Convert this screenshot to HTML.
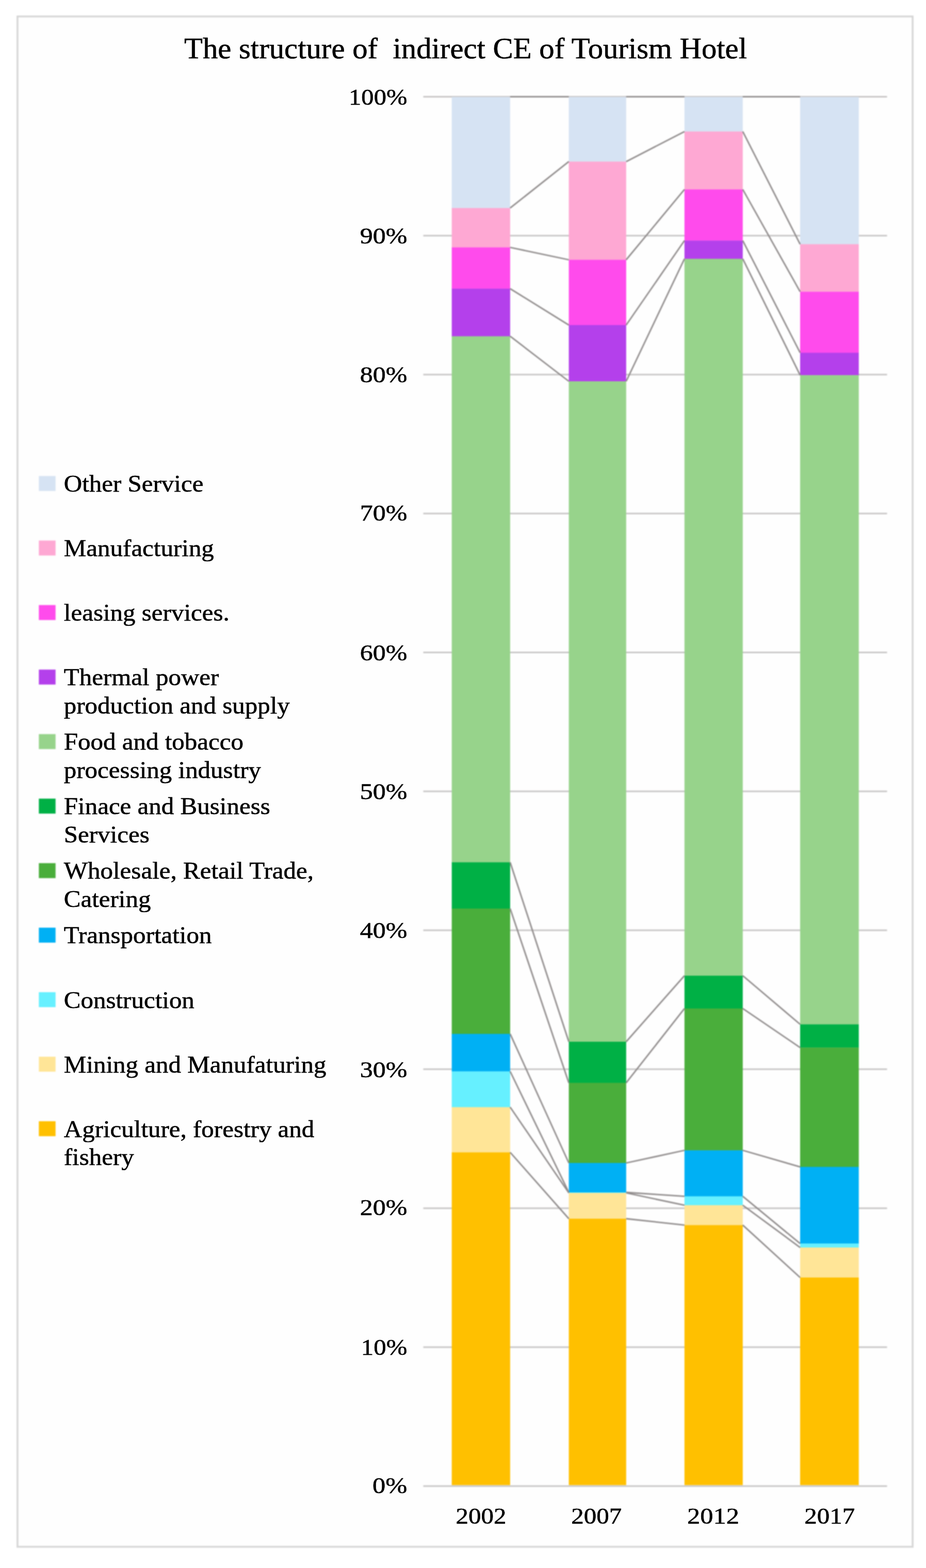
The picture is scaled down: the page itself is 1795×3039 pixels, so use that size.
<!DOCTYPE html>
<html lang="en">
<head>
<meta charset="utf-8">
<title>The structure of indirect CE of Tourism Hotel</title>
<style>
html,body{margin:0;padding:0;background:#fff;}
body{width:1795px;height:3039px;overflow:hidden;}
svg{display:block;}
.shapes{filter:blur(0.8px);}
.labels{filter:blur(0.45px);}
text{font-family:"Liberation Serif", "Times New Roman", serif;fill:#000;white-space:pre;stroke:#000;stroke-width:0.6px;stroke-linejoin:round;}
.t{font-size:58.74px;}
.a{font-size:48.6px;text-anchor:end;}
.c{font-size:49px;text-anchor:middle;}
.l{font-size:49px;}
</style>
</head>
<body>
<svg width="1795" height="3039" viewBox="0 0 1795 3039" role="img" aria-label="The structure of indirect CE of Tourism Hotel">
<rect x="0" y="0" width="1795" height="3039" fill="#ffffff"/>
<g class="shapes">
<!-- chart frame -->
<rect x="33.9" y="31.9" width="1735.2" height="2966" fill="#fefefe" stroke="#D6D6D6" stroke-width="3.5"/>
<!-- horizontal gridlines 10%..100% -->
<g stroke="#C8C6C6" stroke-width="3" fill="none">
<line x1="820.5" y1="2610.92" x2="1719.5" y2="2610.92"/>
<line x1="820.5" y1="2341.64" x2="1719.5" y2="2341.64"/>
<line x1="820.5" y1="2072.36" x2="1719.5" y2="2072.36"/>
<line x1="820.5" y1="1803.08" x2="1719.5" y2="1803.08"/>
<line x1="820.5" y1="1533.80" x2="1719.5" y2="1533.80"/>
<line x1="820.5" y1="1264.52" x2="1719.5" y2="1264.52"/>
<line x1="820.5" y1="995.24" x2="1719.5" y2="995.24"/>
<line x1="820.5" y1="725.96" x2="1719.5" y2="725.96"/>
<line x1="820.5" y1="456.68" x2="1719.5" y2="456.68"/>
<line x1="820.5" y1="187.40" x2="1719.5" y2="187.40"/>
</g>
<!-- stacked column 2002 -->
<g>
<rect x="875.7" y="187.90" width="113.20" height="215.70" fill="#D6E3F3"/>
<rect x="875.7" y="403.20" width="113.20" height="76.70" fill="#FEA8D3"/>
<rect x="875.7" y="479.50" width="113.20" height="80.40" fill="#FF4BEC"/>
<rect x="875.7" y="559.50" width="113.20" height="92.60" fill="#B440EB"/>
<rect x="875.7" y="651.70" width="113.20" height="1019.90" fill="#97D38B"/>
<rect x="875.7" y="1671.20" width="113.20" height="90.10" fill="#00B045"/>
<rect x="875.7" y="1760.90" width="113.20" height="243.30" fill="#4AAE3B"/>
<rect x="875.7" y="2003.80" width="113.20" height="73.10" fill="#00B0F4"/>
<rect x="875.7" y="2076.50" width="113.20" height="69.70" fill="#66F0FF"/>
<rect x="875.7" y="2145.80" width="113.20" height="88.00" fill="#FFE597"/>
<rect x="875.7" y="2233.40" width="113.20" height="645.00" fill="#FFC000"/>
</g>
<!-- stacked column 2007 -->
<g>
<rect x="1102.6" y="187.90" width="111.20" height="125.70" fill="#D6E3F3"/>
<rect x="1102.6" y="313.20" width="111.20" height="190.70" fill="#FEA8D3"/>
<rect x="1102.6" y="503.50" width="111.20" height="126.90" fill="#FF4BEC"/>
<rect x="1102.6" y="630.00" width="111.20" height="109.40" fill="#B440EB"/>
<rect x="1102.6" y="739.00" width="111.20" height="1280.40" fill="#97D38B"/>
<rect x="1102.6" y="2019.00" width="111.20" height="80.10" fill="#00B045"/>
<rect x="1102.6" y="2098.70" width="111.20" height="155.70" fill="#4AAE3B"/>
<rect x="1102.6" y="2254.00" width="111.20" height="57.40" fill="#00B0F4"/>
<rect x="1102.6" y="2311.00" width="111.20" height="1.40" fill="#66F0FF"/>
<rect x="1102.6" y="2312.00" width="111.20" height="50.40" fill="#FFE597"/>
<rect x="1102.6" y="2362.00" width="111.20" height="516.40" fill="#FFC000"/>
</g>
<!-- stacked column 2012 -->
<g>
<rect x="1326.8" y="187.90" width="113.00" height="67.40" fill="#D6E3F3"/>
<rect x="1326.8" y="254.90" width="113.00" height="112.60" fill="#FEA8D3"/>
<rect x="1326.8" y="367.10" width="113.00" height="99.60" fill="#FF4BEC"/>
<rect x="1326.8" y="466.30" width="113.00" height="35.70" fill="#B440EB"/>
<rect x="1326.8" y="501.60" width="113.00" height="1389.80" fill="#97D38B"/>
<rect x="1326.8" y="1891.00" width="113.00" height="64.00" fill="#00B045"/>
<rect x="1326.8" y="1954.60" width="113.00" height="275.30" fill="#4AAE3B"/>
<rect x="1326.8" y="2229.50" width="113.00" height="89.50" fill="#00B0F4"/>
<rect x="1326.8" y="2318.60" width="113.00" height="17.60" fill="#66F0FF"/>
<rect x="1326.8" y="2335.80" width="113.00" height="39.00" fill="#FFE597"/>
<rect x="1326.8" y="2374.40" width="113.00" height="504.00" fill="#FFC000"/>
</g>
<!-- stacked column 2017 -->
<g>
<rect x="1551.0" y="187.90" width="113.70" height="285.80" fill="#D6E3F3"/>
<rect x="1551.0" y="473.30" width="113.70" height="92.50" fill="#FEA8D3"/>
<rect x="1551.0" y="565.40" width="113.70" height="118.70" fill="#FF4BEC"/>
<rect x="1551.0" y="683.70" width="113.70" height="43.80" fill="#B440EB"/>
<rect x="1551.0" y="727.10" width="113.70" height="1258.60" fill="#97D38B"/>
<rect x="1551.0" y="1985.30" width="113.70" height="45.40" fill="#00B045"/>
<rect x="1551.0" y="2030.30" width="113.70" height="231.70" fill="#4AAE3B"/>
<rect x="1551.0" y="2261.60" width="113.70" height="149.00" fill="#00B0F4"/>
<rect x="1551.0" y="2410.20" width="113.70" height="8.00" fill="#66F0FF"/>
<rect x="1551.0" y="2417.80" width="113.70" height="58.60" fill="#FFE597"/>
<rect x="1551.0" y="2476.00" width="113.70" height="402.40" fill="#FFC000"/>
</g>
<!-- category axis line -->
<line x1="820.5" y1="2880.20" x2="1719.5" y2="2880.20" stroke="#C8C6C6" stroke-width="3" fill="none"/>
<!-- series lines connecting segment tops between columns -->
<g stroke="#908C8C" stroke-width="2.8" fill="none" stroke-linecap="butt">
<line x1="988.9" y1="187.40" x2="1102.6" y2="187.40"/>
<line x1="988.9" y1="403.20" x2="1102.6" y2="313.20"/>
<line x1="988.9" y1="479.50" x2="1102.6" y2="503.50"/>
<line x1="988.9" y1="559.50" x2="1102.6" y2="630.00"/>
<line x1="988.9" y1="651.70" x2="1102.6" y2="739.00"/>
<line x1="988.9" y1="1671.20" x2="1102.6" y2="2019.00"/>
<line x1="988.9" y1="1760.90" x2="1102.6" y2="2098.70"/>
<line x1="988.9" y1="2003.80" x2="1102.6" y2="2254.00"/>
<line x1="988.9" y1="2076.50" x2="1102.6" y2="2311.00"/>
<line x1="988.9" y1="2145.80" x2="1102.6" y2="2312.00"/>
<line x1="988.9" y1="2233.40" x2="1102.6" y2="2362.00"/>
<line x1="1213.8" y1="187.40" x2="1326.8" y2="187.40"/>
<line x1="1213.8" y1="313.20" x2="1326.8" y2="254.90"/>
<line x1="1213.8" y1="503.50" x2="1326.8" y2="367.10"/>
<line x1="1213.8" y1="630.00" x2="1326.8" y2="466.30"/>
<line x1="1213.8" y1="739.00" x2="1326.8" y2="501.60"/>
<line x1="1213.8" y1="2019.00" x2="1326.8" y2="1891.00"/>
<line x1="1213.8" y1="2098.70" x2="1326.8" y2="1954.60"/>
<line x1="1213.8" y1="2254.00" x2="1326.8" y2="2229.50"/>
<line x1="1213.8" y1="2311.00" x2="1326.8" y2="2318.60"/>
<line x1="1213.8" y1="2312.00" x2="1326.8" y2="2335.80"/>
<line x1="1213.8" y1="2362.00" x2="1326.8" y2="2374.40"/>
<line x1="1439.8" y1="187.40" x2="1551.0" y2="187.40"/>
<line x1="1439.8" y1="254.90" x2="1551.0" y2="473.30"/>
<line x1="1439.8" y1="367.10" x2="1551.0" y2="565.40"/>
<line x1="1439.8" y1="466.30" x2="1551.0" y2="683.70"/>
<line x1="1439.8" y1="501.60" x2="1551.0" y2="727.10"/>
<line x1="1439.8" y1="1891.00" x2="1551.0" y2="1985.30"/>
<line x1="1439.8" y1="1954.60" x2="1551.0" y2="2030.30"/>
<line x1="1439.8" y1="2229.50" x2="1551.0" y2="2261.60"/>
<line x1="1439.8" y1="2318.60" x2="1551.0" y2="2410.20"/>
<line x1="1439.8" y1="2335.80" x2="1551.0" y2="2417.80"/>
<line x1="1439.8" y1="2374.40" x2="1551.0" y2="2476.00"/>
</g>
<!-- legend swatches -->
<rect x="75.3" y="922.60" width="32.4" height="29" fill="#D6E3F3"/>
<rect x="75.3" y="1047.65" width="32.4" height="29" fill="#FEA8D3"/>
<rect x="75.3" y="1172.70" width="32.4" height="29" fill="#FF4BEC"/>
<rect x="75.3" y="1297.75" width="32.4" height="29" fill="#B440EB"/>
<rect x="75.3" y="1422.80" width="32.4" height="29" fill="#97D38B"/>
<rect x="75.3" y="1547.85" width="32.4" height="29" fill="#00B045"/>
<rect x="75.3" y="1672.90" width="32.4" height="29" fill="#4AAE3B"/>
<rect x="75.3" y="1797.95" width="32.4" height="29" fill="#00B0F4"/>
<rect x="75.3" y="1923.00" width="32.4" height="29" fill="#66F0FF"/>
<rect x="75.3" y="2048.05" width="32.4" height="29" fill="#FFE597"/>
<rect x="75.3" y="2173.10" width="32.4" height="29" fill="#FFC000"/>
</g>
<g class="labels">
<!-- chart title -->
<text class="t" transform="translate(357.00,113.00) scale(1,0.965)" xml:space="preserve">The structure of  indirect CE of Tourism Hotel</text>
<!-- value axis labels -->
<text class="a" transform="translate(789.40,202.80) scale(1.0,0.93)" xml:space="preserve">100%</text>
<text class="a" transform="translate(789.40,471.60) scale(1.03,0.93)" xml:space="preserve">90%</text>
<text class="a" transform="translate(789.40,741.30) scale(1.03,0.93)" xml:space="preserve">80%</text>
<text class="a" transform="translate(789.40,1008.90) scale(1.03,0.93)" xml:space="preserve">70%</text>
<text class="a" transform="translate(789.40,1279.60) scale(1.03,0.93)" xml:space="preserve">60%</text>
<text class="a" transform="translate(789.40,1549.20) scale(1.03,0.93)" xml:space="preserve">50%</text>
<text class="a" transform="translate(789.40,1817.80) scale(1.03,0.93)" xml:space="preserve">40%</text>
<text class="a" transform="translate(789.40,2087.80) scale(1.03,0.93)" xml:space="preserve">30%</text>
<text class="a" transform="translate(789.40,2355.10) scale(1.03,0.93)" xml:space="preserve">20%</text>
<text class="a" transform="translate(789.40,2626.20) scale(1.005,0.93)" xml:space="preserve">10%</text>
<text class="a" transform="translate(789.40,2893.80) scale(1.04,0.93)" xml:space="preserve">0%</text>
<!-- category axis labels -->
<text class="c" transform="translate(932.60,2952.80) scale(1.0,0.925)" xml:space="preserve">2002</text>
<text class="c" transform="translate(1156.20,2952.80) scale(1.0,0.925)" xml:space="preserve">2007</text>
<text class="c" transform="translate(1382.50,2952.80) scale(1.03,0.925)" xml:space="preserve">2012</text>
<text class="c" transform="translate(1608.20,2952.80) scale(1.0,0.925)" xml:space="preserve">2017</text>
<!-- legend labels -->
<text class="l" transform="translate(123.80,953.10) scale(1,0.93)" xml:space="preserve">Other Service</text>
<text class="l" transform="translate(123.80,1078.15) scale(1,0.93)" xml:space="preserve">Manufacturing</text>
<text class="l" transform="translate(123.80,1203.20) scale(1,0.93)" xml:space="preserve">leasing services.</text>
<text class="l" transform="translate(123.80,1328.25) scale(1,0.93)" xml:space="preserve">Thermal power</text>
<text class="l" transform="translate(123.80,1382.75) scale(1,0.93)" xml:space="preserve">production and supply</text>
<text class="l" transform="translate(123.80,1453.30) scale(1,0.93)" xml:space="preserve">Food and tobacco</text>
<text class="l" transform="translate(123.80,1507.80) scale(1,0.93)" xml:space="preserve">processing industry</text>
<text class="l" transform="translate(123.80,1578.35) scale(1,0.93)" xml:space="preserve">Finace and Business</text>
<text class="l" transform="translate(123.80,1632.85) scale(1,0.93)" xml:space="preserve">Services</text>
<text class="l" transform="translate(123.80,1703.40) scale(1,0.93)" xml:space="preserve">Wholesale, Retail Trade,</text>
<text class="l" transform="translate(123.80,1757.90) scale(1,0.93)" xml:space="preserve">Catering</text>
<text class="l" transform="translate(123.80,1828.45) scale(1,0.93)" xml:space="preserve">Transportation</text>
<text class="l" transform="translate(123.80,1953.50) scale(1,0.93)" xml:space="preserve">Construction</text>
<text class="l" transform="translate(123.80,2078.55) scale(1,0.93)" xml:space="preserve">Mining and Manufaturing</text>
<text class="l" transform="translate(123.80,2203.60) scale(1,0.93)" xml:space="preserve">Agriculture, forestry and</text>
<text class="l" transform="translate(123.80,2258.10) scale(1,0.93)" xml:space="preserve">fishery</text>
</g>
</svg>
</body>
</html>
